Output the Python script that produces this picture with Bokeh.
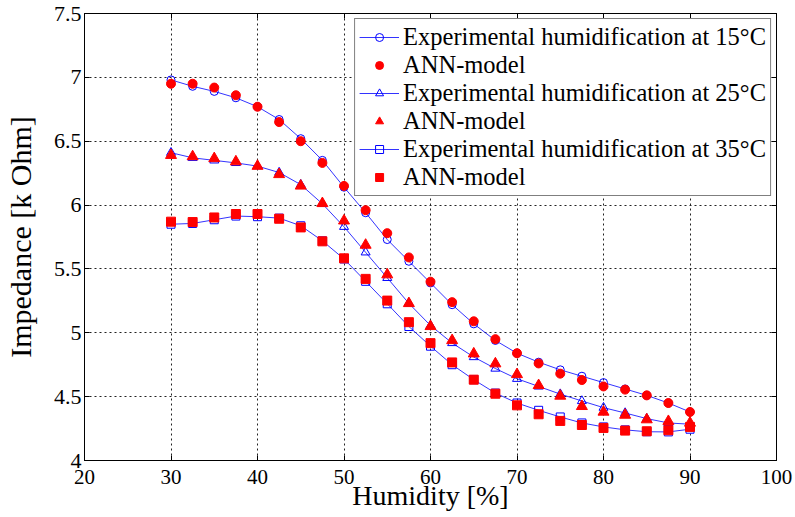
from bokeh.plotting import figure
from bokeh.models import Legend, LegendItem, FixedTicker, CustomJSTickFormatter, LinearAxis
from bokeh.embed import file_html
from bokeh.resources import INLINE

humidity = [30, 32.5, 35, 37.5, 40, 42.5, 45, 47.5, 50, 52.5, 55, 57.5, 60,
            62.5, 65, 67.5, 70, 72.5, 75, 77.5, 80, 82.5, 85, 87.5, 90]

exp_15 = [6.98, 6.93, 6.89, 6.84, 6.77, 6.67, 6.52, 6.35, 6.14, 5.94, 5.73, 5.56, 5.39,
          5.22, 5.07, 4.94, 4.84, 4.77, 4.71, 4.66, 4.61, 4.56, 4.51, 4.45, 4.38]
ann_15 = [6.95, 6.95, 6.92, 6.86, 6.77, 6.65, 6.50, 6.33, 6.15, 5.96, 5.78, 5.59, 5.40,
          5.24, 5.09, 4.95, 4.84, 4.76, 4.68, 4.63, 4.58, 4.555, 4.51, 4.45, 4.38]

exp_25 = [6.41, 6.37, 6.35, 6.33, 6.305, 6.255, 6.16, 6.01, 5.83, 5.63, 5.43, 5.23, 5.057,
          4.92, 4.81, 4.72, 4.64, 4.58, 4.52, 4.466, 4.414, 4.372, 4.328, 4.294, 4.284]
ann_25 = [6.39, 6.38, 6.365, 6.34, 6.305, 6.24, 6.15, 6.013, 5.877, 5.687, 5.455, 5.23, 5.05,
          4.94, 4.836, 4.758, 4.674, 4.588, 4.505, 4.424, 4.38, 4.356, 4.32, 4.307, 4.294]

exp_35 = [5.85, 5.856, 5.885, 5.914, 5.909, 5.898, 5.838, 5.72, 5.578, 5.403, 5.227, 5.049, 4.895,
          4.75, 4.633, 4.528, 4.45, 4.393, 4.341, 4.294, 4.263, 4.24, 4.225, 4.224, 4.245]
ann_35 = [5.87, 5.867, 5.903, 5.93, 5.93, 5.893, 5.825, 5.716, 5.583, 5.422, 5.252, 5.083, 4.919,
          4.768, 4.633, 4.523, 4.432, 4.362, 4.31, 4.278, 4.255, 4.234, 4.229, 4.237, 4.263]

x_ticks = [20, 30, 40, 50, 60, 70, 80, 90, 100]
y_ticks = [4, 4.5, 5, 5.5, 6, 6.5, 7, 7.5]

x_title = "Humidity [%]"
y_title = "Impedance [k Ohm]"
labels_exp = ["Experimental humidification at 15\u00b0C",
              "Experimental humidification at 25\u00b0C",
              "Experimental humidification at 35\u00b0C"]
label_ann = "ANN-model"

FONT = "Liberation Serif"

p = figure(width=795, height=517, x_range=(x_ticks[0], x_ticks[-1]),
           y_range=(y_ticks[0], y_ticks[-1]),
           output_backend="svg", toolbar_location=None,
           min_border_left=80, min_border_right=19, min_border_top=13, min_border_bottom=57)

xa = p.below[0]
ya = p.left[0]
xa.ticker = FixedTicker(ticks=x_ticks)
ya.ticker = FixedTicker(ticks=y_ticks)
ya.formatter = CustomJSTickFormatter(code="return String(Math.round(tick*10)/10);")
xa.formatter = CustomJSTickFormatter(code="return String(tick);")

for ax in (xa, ya):
    ax.axis_line_color = "black"
    ax.major_tick_line_color = "black"
    ax.major_tick_in = 5
    ax.major_tick_out = 0
    ax.minor_tick_line_color = None
    ax.major_label_text_font = FONT
    ax.major_label_text_color = "black"
    ax.axis_label_text_font = FONT
    ax.axis_label_text_font_style = "normal"
    ax.axis_label_text_color = "black"

xa.axis_label = x_title
ya.axis_label = y_title
xa.major_label_text_font_size = "21px"
ya.major_label_text_font_size = "22px"
xa.axis_label_text_font_size = "28px"
ya.axis_label_text_font_size = "30px"
xa.major_label_standoff = 9
ya.major_label_standoff = 3
xa.axis_label_standoff = -7
ya.axis_label_standoff = 14

# box-style ticks on top and right (no labels)
top_ax = LinearAxis(ticker=FixedTicker(ticks=x_ticks),
                    formatter=CustomJSTickFormatter(code="return '';"))
right_ax = LinearAxis(ticker=FixedTicker(ticks=y_ticks),
                      formatter=CustomJSTickFormatter(code="return '';"))
for ax in (top_ax, right_ax):
    ax.axis_line_color = "black"
    ax.major_tick_line_color = "black"
    ax.major_tick_in = 5
    ax.major_tick_out = 0
    ax.minor_tick_line_color = None
    ax.major_label_standoff = 0
    ax.major_label_text_font_size = "1px"
p.add_layout(top_ax, "above")
p.add_layout(right_ax, "right")

p.grid.grid_line_color = "#222222"
p.grid.grid_line_dash = "2 3"
p.grid.grid_line_width = 1
p.outline_line_color = "black"
p.outline_line_width = 1
p.background_fill_color = "white"
p.border_fill_color = "white"

blue = "#0000ff"
red = "#ff0000"

items = []
markers = ["circle", "triangle", "square"]
exp_series = [exp_15, exp_25, exp_35]
ann_series = [ann_15, ann_25, ann_35]
exp_sizes = [8, 9, 8]
ann_sizes = [9, 11, 9]
for exp, ann, mk, lab, es, asz in zip(exp_series, ann_series, markers, labels_exp, exp_sizes, ann_sizes):
    ln = p.line(humidity, exp, line_color=blue, line_width=1, line_alpha=0.8)
    sc = p.scatter(humidity, exp, marker=mk, size=es, fill_color=None, line_color=blue, line_width=1)
    an = p.scatter(humidity, ann, marker=mk, size=asz, fill_color=red, line_color=red)
    items.append(LegendItem(label=lab, renderers=[ln, sc]))
    items.append(LegendItem(label=label_ann, renderers=[an]))

legend = Legend(items=items, location="top_right")
legend.label_text_font = FONT
legend.label_text_font_size = "24.5px"
legend.label_text_color = "black"
legend.glyph_width = 40
legend.glyph_height = 20
legend.label_height = 20
legend.spacing = 0
legend.label_standoff = 4
legend.padding = 4
legend.margin = 5
legend.border_line_color = "black"
legend.border_line_width = 1
legend.background_fill_color = "white"
legend.background_fill_alpha = 1
p.add_layout(legend)

open("out.html", "w").write(file_html(p, INLINE))
